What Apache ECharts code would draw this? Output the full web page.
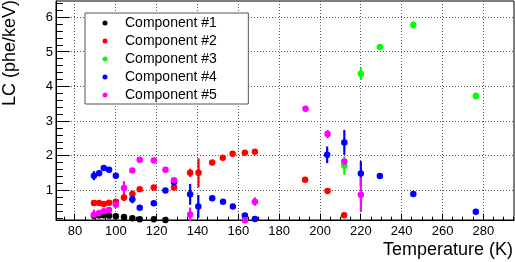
<!DOCTYPE html>
<html>
<head>
<meta charset="utf-8">
<script src="https://cdn.jsdelivr.net/npm/echarts@6/dist/echarts.min.js"></script>
<style>
html,body{margin:0;padding:0;background:#fff;}
#chart{width:515px;height:262px;}
</style>
</head>
<body>
<div id="chart"></div>
<script>
// ---- data ----
const xTickLabels = [80, 100, 120, 140, 160, 180, 200, 220, 240, 260, 280];
const yTickLabels = [1, 2, 3, 4, 5, 6];
const seriesNames = ['Component #1', 'Component #2', 'Component #3', 'Component #4', 'Component #5'];

const temp1 = [89.3, 91.8, 94.1, 96.7, 100.0, 104.0, 108.1, 111.7, 118.6, 124.3];
const lc1   = [0.27, 0.28, 0.29, 0.27, 0.26, 0.24, 0.20, 0.17, 0.17, 0.15];
const err1  = [0.02, 0.02, 0.02, 0.02, 0.02, 0.02, 0.02, 0.02, 0.02, 0.02];

const temp2 = [89.3, 91.8, 94.1, 96.7, 100.0, 104.0, 108.1, 111.7, 118.6, 128.5, 136.4, 140.5, 147.2, 152.4, 157.2, 163.2, 168.1, 192.7, 203.7, 211.8];
const lc2   = [0.64, 0.64, 0.61, 0.65, 0.68, 0.80, 0.90, 1.04, 1.09, 1.09, 1.51, 1.51, 1.81, 1.95, 2.06, 2.09, 2.12, 1.31, 0.99, 0.29];
const err2  = [0.05, 0.04, 0.03, 0.03, 0.03, 0.10, 0.10, 0.04, 0.03, 0.04, 0.12, 0.42, 0.03, 0.03, 0.03, 0.03, 0.03, 0.03, 0.03, 0.05];

const temp3 = [211.9, 220.0, 229.3, 245.7, 276.3];
const lc3   = [1.72, 4.37, 5.14, 5.78, 3.73];
const err3  = [0.27, 0.17, 0.03, 0.10, 0.10];

const temp4 = [89.3, 91.8, 94.1, 96.7, 100.0, 108.1, 111.7, 118.6, 124.3, 128.5, 136.4, 140.4, 147.2, 152.5, 157.3, 163.2, 168.1, 203.5, 211.9, 220.0, 229.3, 245.7, 276.3];
const lc4   = [1.43, 1.50, 1.65, 1.60, 1.43, 0.75, 0.50, 0.63, 1.00, 1.24, 0.89, 0.54, 0.78, 0.68, 0.54, 0.28, 0.18, 2.03, 2.39, 1.49, 1.42, 0.90, 0.39];
const err4  = [0.13, 0.03, 0.03, 0.03, 0.03, 0.12, 0.03, 0.03, 0.03, 0.05, 0.30, 0.33, 0.03, 0.03, 0.03, 0.03, 0.03, 0.24, 0.36, 0.36, 0.03, 0.08, 0.08];

const temp5 = [89.3, 91.8, 94.1, 96.7, 100.0, 104.0, 108.1, 111.7, 118.6, 124.3, 128.5, 136.4, 163.2, 168.1, 192.9, 203.7, 211.9, 220.0];
const lc5   = [0.30, 0.35, 0.40, 0.44, 0.59, 1.07, 1.58, 1.89, 1.87, 1.60, 1.30, 0.31, 0.14, 0.68, 3.36, 2.63, 1.84, 0.88];
const err5  = [0.15, 0.03, 0.03, 0.03, 0.03, 0.20, 0.03, 0.03, 0.03, 0.03, 0.03, 0.20, 0.03, 0.12, 0.06, 0.12, 0.06, 0.50];

// ---- chart ----
const colors = ['#000000', '#ff0000', '#00ff00', '#0000ff', '#ff00ff'];
const temps = [temp1, temp2, temp3, temp4, temp5];
const lcs = [lc1, lc2, lc3, lc4, lc5];
const errs = [err1, err2, err3, err4, err5];

const X_MIN = 70.7, X_MAX = 295.0, Y_MIN = 0.15, Y_MAX = 6.47;
const FONT = '"Liberation Sans", Arial, Helvetica, sans-serif';

function crisp(v) { return Math.round(v - 0.5) + 0.5; }

function renderFrame(params, api) {
  const cs = params.coordSys;
  const left = cs.x, top = cs.y, right = cs.x + cs.width, bottom = cs.y + cs.height;
  const children = [];
  const gridStyle = { stroke: '#555', lineWidth: 1, lineDash: [1, 2] };
  xTickLabels.forEach(v => {
    const px = crisp(api.coord([v, Y_MIN])[0]);
    children.push({ type: 'line', shape: { x1: px, y1: top, x2: px, y2: bottom }, style: gridStyle });
  });
  yTickLabels.forEach(v => {
    const py = crisp(api.coord([X_MIN, v])[1]);
    children.push({ type: 'line', shape: { x1: left, y1: py, x2: right, y2: py }, style: gridStyle });
  });
  const tickStyle = { stroke: '#000', lineWidth: 1 };
  for (let k = 15; k <= 59; k++) {
    const v = k * 5;
    if (v < X_MIN || v > X_MAX) continue;
    const px = crisp(api.coord([v, Y_MIN])[0]);
    const len = (v % 20 === 0) ? 6.5 : 3.3;
    children.push({ type: 'line', shape: { x1: px, y1: bottom, x2: px, y2: bottom - len }, style: tickStyle });
  }
  for (let k = 1; k <= 32; k++) {
    const v = k / 5;
    if (v < Y_MIN || v > Y_MAX) continue;
    const py = crisp(api.coord([X_MIN, v])[1]);
    const len = (k % 5 === 0) ? 13.7 : 6.9;
    children.push({ type: 'line', shape: { x1: left, y1: py, x2: left + len, y2: py }, style: tickStyle });
  }
  return { type: 'group', children };
}

function makeErrRenderer(color) {
  return function (params, api) {
    const x = api.value(0), lo = api.value(1), hi = api.value(2);
    const p1 = api.coord([x, lo]);
    const p2 = api.coord([x, hi]);
    return {
      type: 'line',
      shape: { x1: p1[0], y1: p1[1], x2: p2[0], y2: p2[1] },
      style: { stroke: color, lineWidth: 2.2 }
    };
  };
}

const series = [{
  type: 'custom',
  name: 'frame',
  renderItem: renderFrame,
  data: [[200, 3]],
  silent: true,
  z: 1
}];

for (let i = 0; i < 5; i++) {
  series.push({
    type: 'custom',
    name: 'err' + (i + 1),
    renderItem: makeErrRenderer(colors[i]),
    data: temps[i].map((t, j) => [t, lcs[i][j] - errs[i][j], lcs[i][j] + errs[i][j]]),
    silent: true,
    z: 2
  });
  series.push({
    type: 'scatter',
    name: seriesNames[i],
    data: temps[i].map((t, j) => [t, lcs[i][j]]),
    symbol: 'circle',
    symbolSize: 6.5,
    itemStyle: { color: colors[i], opacity: 1 },
    clip: false,
    silent: true,
    z: 2
  });
}

const chart = echarts.init(document.getElementById('chart'), null, { renderer: 'canvas' });
chart.setOption({
  animation: false,
  backgroundColor: '#ffffff',
  grid: { left: 56, right: 1, top: 1, bottom: 42, show: true, borderColor: '#000', borderWidth: 1, backgroundColor: 'transparent' },
  xAxis: {
    type: 'value', min: X_MIN, max: X_MAX,
    axisLine: { show: true, onZero: false, lineStyle: { color: '#000', width: 1 } },
    axisTick: { show: false },
    splitLine: { show: false },
    axisLabel: { customValues: xTickLabels, color: '#000', fontSize: 13, fontFamily: FONT, margin: 5 }
  },
  yAxis: {
    type: 'value', min: Y_MIN, max: Y_MAX,
    axisLine: { show: true, onZero: false, lineStyle: { color: '#000', width: 1 } },
    axisTick: { show: false },
    splitLine: { show: false },
    axisLabel: { customValues: yTickLabels, color: '#000', fontSize: 13, fontFamily: FONT, margin: 3 }
  },
  legend: {
    data: seriesNames,
    orient: 'vertical',
    left: 85, top: 13,
    backgroundColor: '#fff',
    borderColor: '#555', borderWidth: 1, borderRadius: 0,
    padding: [1, 31.5, 0, 17.5],
    itemGap: 0,
    itemWidth: 30, itemHeight: 5,
    icon: 'circle',
    selectedMode: false,
    textStyle: { color: '#000', fontSize: 14, fontFamily: FONT, lineHeight: 18 }
  },
  graphic: [
    { type: 'text', right: 2, top: 241, style: { text: 'Temperature (K)', font: '18px ' + FONT, fill: '#000' } },
    { type: 'text', x: 10.5, y: 53, rotation: Math.PI / 2, style: { text: 'LC (phe/keV)', font: '18px ' + FONT, fill: '#000', align: 'center', verticalAlign: 'middle' } }
  ],
  series: series
});
</script>
</body>
</html>
